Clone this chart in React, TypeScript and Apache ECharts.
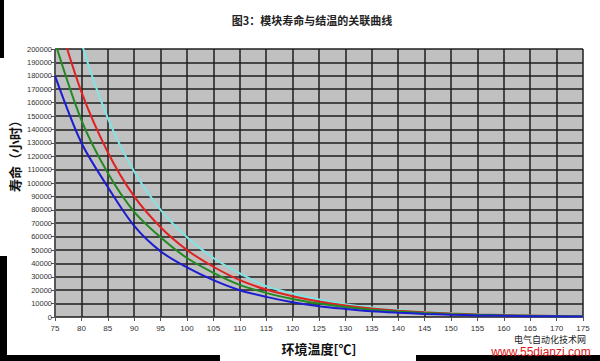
import React, { useEffect, useRef } from "react";
import * as echarts from "echarts";

const temps = [75, 80, 85, 90, 95, 100, 105, 110, 115, 120, 125, 130, 135, 140, 145, 150, 155, 160, 165, 170, 175];
const blueLife = [180000, 130000, 97000, 68000, 49000, 37000, 27500, 20000, 15000, 11000, 8000, 6000, 4300, 3200, 2300, 1700, 1200, 900, 650, 480, 350];
const greenLife = [205000, 147000, 107500, 78500, 59500, 44000, 33000, 24000, 18000, 13500, 10000, 7500, 5500, 4100, 3000, 2200, 1650, 1200, 900, 650, 480];
const redLife = [230000, 168000, 123000, 90000, 67000, 50000, 37500, 27500, 20500, 15500, 11500, 8500, 6300, 4700, 3500, 2600, 1900, 1400, 1050, 780, 580];
const cyanLife = [285000, 205000, 148500, 108500, 80000, 59500, 44000, 32500, 23000, 17500, 13000, 9600, 7100, 5300, 3900, 2900, 2100, 1600, 1150, 850, 650];

const titleText = "图3：模块寿命与结温的关联曲线";
const yName = "寿命（小时）";
const xName = "环境温度[℃]";
const wm1 = "电气自动化技术网";
const wm2 = "www.55dianzi.com";

const pairs = (ys: number[]) => temps.map((t, i) => [t, ys[i]]);

export default function App() {
  const ref = useRef<HTMLDivElement>(null);
  useEffect(() => {
    if (!ref.current) return;
    const chart = echarts.init(ref.current, undefined, { renderer: "svg" });
    const mk = (data: number[], color: string) => ({
      type: "line",
      data: pairs(data),
      smooth: 0.3,
      symbol: "none",
      clip: true,
      lineStyle: { color, width: 2 },
      z: 3,
    });
    chart.setOption({
      animation: false,
      backgroundColor: "#ffffff",
      title: {
        text: titleText,
        left: 307,
        textAlign: "center",
        top: 9,
        textStyle: { fontSize: 11, fontWeight: "bold", color: "#222", fontFamily: "Noto Sans CJK SC" },
      },
      grid: {
        left: 55,
        right: 17,
        top: 49,
        bottom: 44,
        show: true,
        backgroundColor: "#c0c0c0",
        borderWidth: 0,
        containLabel: false,
        outerBoundsMode: "none",
      },
      xAxis: {
        type: "value",
        min: 75,
        max: 175,
        interval: 5,
        name: xName,
        nameLocation: "middle",
        nameGap: 25,
        nameTextStyle: { fontSize: 13, fontWeight: "bold", color: "#111", fontFamily: "Noto Sans CJK SC" },
        axisLine: { lineStyle: { color: "#555", width: 1 } },
        axisTick: { show: true, length: 4, lineStyle: { color: "#555" } },
        axisLabel: { fontSize: 8, color: "#333", margin: 7, fontFamily: "Arial, Liberation Sans" },
        splitLine: { show: true, lineStyle: { color: "#1e1e1e", width: 1.5 } },
      },
      yAxis: {
        type: "value",
        min: 0,
        max: 200000,
        interval: 10000,
        axisLine: { show: true, lineStyle: { color: "#555", width: 1 } },
        axisTick: { show: true, length: 4, lineStyle: { color: "#555" } },
        axisLabel: {
          fontSize: 7.5,
          color: "#333",
          margin: 3,
          fontFamily: "Arial, Liberation Sans",
          formatter: (v: number) => String(v),
        },
        splitLine: { show: true, lineStyle: { color: "#1e1e1e", width: 1.5 } },
      },
      series: [
        mk(cyanLife, "#80e4e4"),
        mk(redLife, "#e02222"),
        mk(greenLife, "#238a23"),
        mk(blueLife, "#1c1cd0"),
      ],
      graphic: [
        {
          type: "text",
          x: 14,
          y: 153,
          rotation: Math.PI / 2,
          style: {
            text: yName,
            fontSize: 13,
            fontWeight: "bold",
            fill: "#111",
            fontFamily: "Noto Sans CJK SC",
            align: "center",
            verticalAlign: "middle",
          },
        },
        { type: "rect", shape: { x: 0, y: 0, width: 4, height: 58 }, style: { fill: "#000" } },
        { type: "rect", shape: { x: 0, y: 256, width: 7, height: 105 }, style: { fill: "#000" } },
        { type: "rect", shape: { x: 0, y: 355, width: 220, height: 6 }, style: { fill: "#000" } },
        { type: "rect", shape: { x: 416, y: 355, width: 184, height: 6 }, style: { fill: "#000" } },
        {
          type: "text",
          x: 550,
          y: 339.5,
          z: 10,
          style: { text: wm1, fontSize: 9, fill: "#222", fontFamily: "Noto Sans CJK SC", align: "center", verticalAlign: "middle" },
        },
        {
          type: "text",
          x: 541,
          y: 352,
          z: 10,
          style: { text: wm2, fontSize: 12, fill: "#e01818", fontFamily: "Arial, Liberation Sans", align: "center", verticalAlign: "middle" },
        },
      ],
    });
    return () => chart.dispose();
  }, []);
  return <div ref={ref} style={{ width: 600, height: 361, position: "absolute", left: 0, top: 0 }} />;
}
